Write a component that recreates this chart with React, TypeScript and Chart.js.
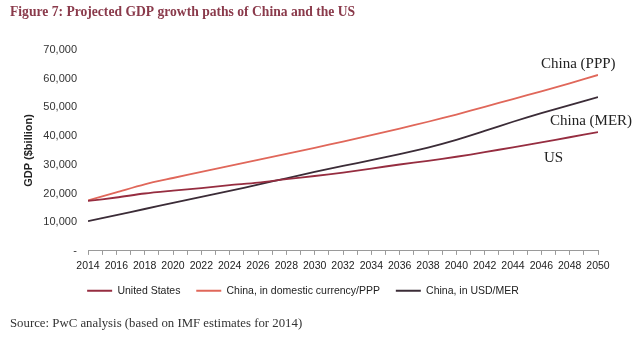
import React, { useEffect, useRef } from 'react';
import { Chart, registerables } from 'chart.js';

Chart.register(...registerables);

const years = [2014, 2016, 2018, 2020, 2022, 2024, 2026, 2028, 2030, 2032, 2034, 2036, 2038, 2040, 2042, 2044, 2046, 2048, 2050];
const usValues = [17400, 18600, 20000, 21000, 21900, 22900, 23800, 25000, 26100, 27300, 28700, 30100, 31400, 32800, 34400, 36100, 37800, 39600, 41400];
const chinaPppValues = [17600, 20400, 23200, 25400, 27500, 29600, 31700, 33800, 35900, 38100, 40300, 42600, 45000, 47500, 50200, 52900, 55600, 58400, 61300];
const chinaMerValues = [10400, 12500, 14600, 16700, 18800, 20900, 23100, 25300, 27500, 29600, 31600, 33700, 36000, 38700, 41800, 45000, 48000, 50800, 53600];

const seriesNames = ['United States', 'China, in domestic currency/PPP', 'China, in USD/MER'];
const endLabels = ['US', 'China (PPP)', 'China (MER)'];
const seriesColors = ['#962d40', '#e0675a', '#3b2c37'];

const yMin = 0;
const yMax = 70000;
const yStep = 10000;
const xMin = 2014;
const xMax = 2050;

const titleText = 'Figure 7: Projected GDP growth paths of China and the US';
const sourceText = 'Source: PwC analysis (based on IMF estimates for 2014)';
const yAxisTitle = 'GDP ($billion)';

// label offsets relative to the last point of each series: [dx, dy]
const endLabelOffsets: [number, number][] = [
  [-54, 26],
  [-57, -11],
  [-48, 24],
];

const textPlugin = {
  id: 'figureTexts',
  afterDraw(chart: any) {
    const ctx = chart.ctx;
    ctx.save();
    ctx.textBaseline = 'middle';
    ctx.textAlign = 'left';
    ctx.fillStyle = '#8a3a4b';
    ctx.font = 'bold 13.6px "Liberation Serif"';
    ctx.fillText(titleText, 10, 12);

    ctx.fillStyle = '#333333';
    ctx.font = '12.8px "Liberation Serif"';
    ctx.fillText(sourceText, 10, 324);

    ctx.fillStyle = '#222222';
    ctx.font = '15px "Liberation Serif"';
    chart.data.datasets.forEach((ds: any, i: number) => {
      const meta = chart.getDatasetMeta(i);
      const last = meta.data[meta.data.length - 1];
      if (!last) return;
      const [dx, dy] = endLabelOffsets[i];
      ctx.fillText(endLabels[i], last.x + dx, last.y + dy);
    });
    ctx.restore();
  },
};

export default function App() {
  const canvasRef = useRef<HTMLCanvasElement | null>(null);

  useEffect(() => {
    if (!canvasRef.current) return;
    const seriesValues = [usValues, chinaPppValues, chinaMerValues];
    const chart = new Chart(canvasRef.current, {
      type: 'line',
      data: {
        datasets: seriesValues.map((vals, i) => ({
          label: seriesNames[i],
          data: years.map((yr, j) => ({ x: yr, y: vals[j] })),
          borderColor: seriesColors[i],
          backgroundColor: seriesColors[i],
          borderWidth: 1.8,
          pointRadius: 0,
          tension: 0.3,
          fill: false,
        })),
      },
      options: {
        animation: false,
        responsive: true,
        maintainAspectRatio: false,
        layout: { padding: { left: 8, right: 42, top: 50, bottom: 36 } },
        plugins: {
          legend: {
            position: 'bottom',
            labels: {
              boxWidth: 25,
              boxHeight: 2,
              padding: 10,
              color: '#222222',
              font: { family: '"Liberation Sans", Arial', size: 10.5 },
              generateLabels: (chart: any) => {
                const items = Chart.defaults.plugins.legend.labels.generateLabels(chart);
                return items.map((it: any, i: number) => ({
                  ...it,
                  text: i < items.length - 1 ? it.text + '  ' : it.text,
                  lineWidth: 0,
                }));
              },
            },
          },
          tooltip: { enabled: false },
          title: { display: false },
        },
        scales: {
          x: {
            type: 'linear',
            min: xMin,
            max: xMax,
            afterFit: (scale: any) => { scale.height -= 2; },
            ticks: {
              stepSize: 1,
              autoSkip: false,
              maxRotation: 0,
              padding: 5,
              color: '#222222',
              font: { family: '"Liberation Sans", Arial', size: 10.5 },
              callback: (v: any) => (Number(v) % 2 === 0 ? String(v) : ''),
            },
            grid: { display: true, drawOnChartArea: false, drawTicks: true, tickLength: 4, color: '#9a9a9a' },
            border: { display: true, color: '#9a9a9a' },
          },
          y: {
            min: yMin,
            max: yMax,
            afterFit: (scale: any) => { scale.width = 80; },
            ticks: {
              stepSize: yStep,
              padding: 11,
              color: '#333333',
              font: { family: '"Liberation Sans", Arial', size: 11 },
              callback: (v: any) => (Number(v) === 0 ? '-' : Number(v).toLocaleString('en-US')),
            },
            grid: { display: false, drawTicks: false },
            border: { display: false },
            title: {
              display: true,
              text: yAxisTitle,
              color: '#222222',
              font: { family: '"Liberation Sans", Arial', size: 11, weight: 'bold' },
              padding: { top: 14, bottom: 0 },
            },
          },
        },
      },
      plugins: [textPlugin],
    });
    return () => chart.destroy();
  }, []);

  return (
    <div style={{ position: 'absolute', left: 0, top: 0, width: 640, height: 342, background: '#ffffff' }}>
      <canvas ref={canvasRef} />
    </div>
  );
}
